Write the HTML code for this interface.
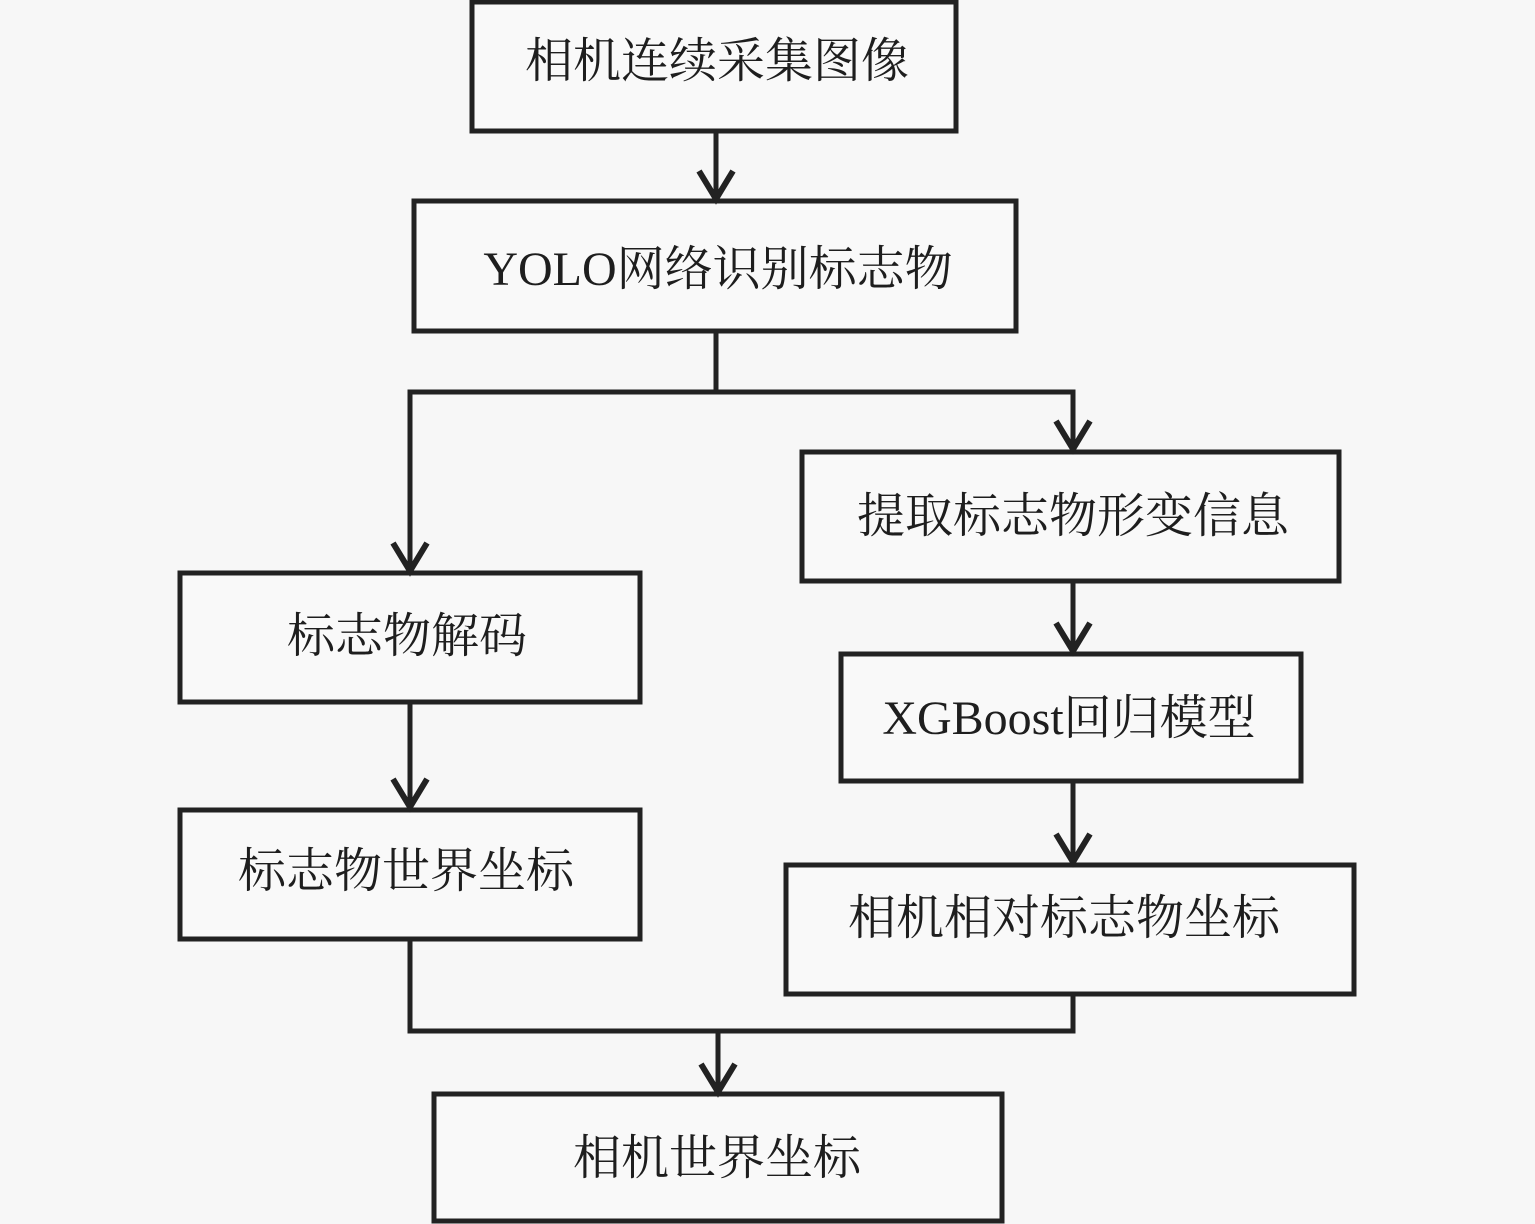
<!DOCTYPE html>
<html>
<head>
<meta charset="utf-8">
<style>
html,body{margin:0;padding:0;background:#f7f7f7;}
svg{display:block;}
text{font-family:"Liberation Serif","Noto Serif CJK SC","Noto Sans CJK SC",serif;font-size:48px;fill:#1e1e1e;}
</style>
</head>
<body>
<svg width="1535" height="1224" viewBox="0 0 1535 1224" xmlns="http://www.w3.org/2000/svg">
<rect x="0" y="0" width="1535" height="1224" fill="#f7f7f7"/>
<g fill="#f9f9f9" stroke="#222" stroke-width="5">
  <rect x="472" y="2" width="484" height="129"/>
  <rect x="414" y="201" width="602" height="130"/>
  <rect x="802" y="452" width="537" height="129"/>
  <rect x="841" y="654" width="460" height="127"/>
  <rect x="786" y="865" width="568" height="129"/>
  <rect x="180" y="573" width="460" height="129"/>
  <rect x="180" y="810" width="460" height="129"/>
  <rect x="434" y="1094" width="568" height="127"/>
</g>
<g fill="none" stroke="#222" stroke-width="5" stroke-linecap="square">
  <line x1="716" y1="133" x2="716" y2="198"/>
  <line x1="716" y1="333" x2="716" y2="392"/>
  <line x1="410" y1="392" x2="1073" y2="392"/>
  <line x1="410" y1="392" x2="410" y2="570"/>
  <line x1="1073" y1="392" x2="1073" y2="449"/>
  <line x1="1073" y1="583" x2="1073" y2="651"/>
  <line x1="1073" y1="783" x2="1073" y2="862"/>
  <line x1="410" y1="704" x2="410" y2="807"/>
  <line x1="410" y1="941" x2="410" y2="1031"/>
  <line x1="410" y1="1031" x2="1073" y2="1031"/>
  <line x1="1073" y1="996" x2="1073" y2="1031"/>
  <line x1="718" y1="1031" x2="718" y2="1092"/>
</g>
<g fill="none" stroke="#222" stroke-width="6" stroke-linejoin="miter" stroke-linecap="butt">
  <polyline points="699,171 716,199 733,171"/>
  <polyline points="393,543 410,571 427,543"/>
  <polyline points="1056,421 1073,449 1090,421"/>
  <polyline points="1056,623 1073,651 1090,623"/>
  <polyline points="1056,834 1073,862 1090,834"/>
  <polyline points="393,779 410,807 427,779"/>
  <polyline points="701,1064 718,1092 735,1064"/>
</g>
<g text-anchor="middle">
  <text x="717" y="77">相机连续采集图像</text>
  <text x="718" y="285">YOLO网络识别标志物</text>
  <text x="1073" y="532">提取标志物形变信息</text>
  <text x="1069" y="734">XGBoost回归模型</text>
  <text x="1064" y="934">相机相对标志物坐标</text>
  <text x="407" y="652">标志物解码</text>
  <text x="406" y="887">标志物世界坐标</text>
  <text x="717" y="1174">相机世界坐标</text>
</g>
</svg>
</body>
</html>
